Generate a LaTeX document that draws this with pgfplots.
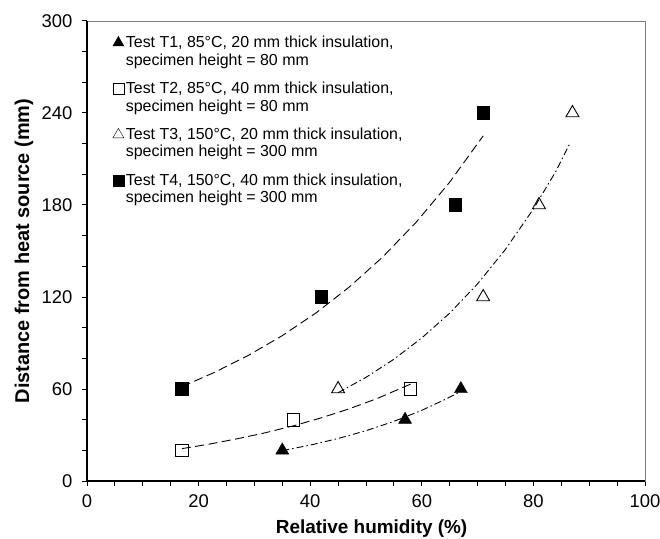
\documentclass[border=0pt]{standalone}
\usepackage{fontspec}
\setmainfont{Liberation Sans}
\usepackage{pgfplots}
\pgfplotsset{compat=1.18}
\begin{document}
\begin{tikzpicture}
\useasboundingbox (-87bp,-58bp) rectangle (573bp,481bp);
\begin{axis}[
  at={(0,0)}, anchor=south west,
  scale only axis, width=558bp, height=460bp,
  xmin=0, xmax=100, ymin=0, ymax=300,
  xtick={0,20,...,100}, ytick={0,60,...,300},
  minor x tick num=3, minor y tick num=2,
  tick align=outside, xtick pos=bottom, ytick pos=left,
  major tick length=5bp, minor tick length=5bp,
  every tick/.style={black, line width=1pt},
  axis line style={draw=gray, line width=0.9pt},
  /pgf/number format/assume math mode=true,
  ticklabel style={font=\fontsize{18.5}{20}\selectfont},
  xticklabel style={yshift=-5bp},
  yticklabel style={xshift=-6bp},
  xlabel={Relative humidity (\%)},
  ylabel={Distance from heat source (mm)},
  every axis x label/.style={at={(axis description cs:0.51,-0.1043)}, anchor=center, font=\fontsize{19}{22}\selectfont\bfseries},
  every axis y label/.style={at={(axis description cs:-0.1129,0.5)}, rotate=90, anchor=center, font=\fontsize{20}{22}\selectfont\bfseries},
  legend style={at={(rel axis cs:0.046,0.972)}, anchor=north west, draw=none, fill=none,
    font=\fontsize{16}{17.5}\selectfont, cells={align=left, anchor=west}, row sep=11.5bp, inner sep=0pt},
  legend image code/.code={\draw[mark repeat=1,mark phase=1,#1] plot coordinates {(0.3cm,8.5bp)};},
  legend image post style={mark options={scale=0.85}},
  clip=false,
]
% trend lines
\addplot[forget plot, black, line width=0.9pt, dash pattern=on 7bp off 3bp on 1.5bp off 3bp] coordinates {
(35,19.8) (40,23.4) (45,27.7) (50,32.8) (55,38.9) (60,46.1) (64,52.9) (67,58.4)};
\addplot[forget plot, black, line width=0.9pt, dash pattern=on 9bp off 4.5bp] coordinates {
(17,21.1) (22,24.1) (27,27.6) (32,31.5) (37,36.0) (42,41.2) (47,47.1) (52,53.8) (58,63.2)};
\addplot[forget plot, black, line width=0.9pt, dash pattern=on 7bp off 3bp on 1.5bp off 3bp] coordinates {
(45,57.6) (50,67.6) (55,79.4) (60,93.3) (65,109.5) (70,128.6) (75,151.1) (80,177.4) (84,201.8) (86.5,220)};
\addplot[forget plot, black, line width=0.9pt, dash pattern=on 9bp off 4.5bp] coordinates {
(17,61.5) (23,71.1) (29,82.1) (35,94.8) (41,109.5) (47,126.5) (53,146.1) (59,168.8) (65,194.9) (71,225.1)};
% data
\addplot[only marks, mark=triangle*, mark size=7.5bp, mark options={fill=black, draw=black}] coordinates {(35,20) (57,40) (67,60)};
\addlegendentry{Test T1, 85°C, 20 mm thick insulation,\\specimen height = 80 mm}
\addplot[only marks, mark=square, mark size=6.3bp, mark options={fill=white, draw=black, line width=0.9pt}] coordinates {(17,20) (37,40) (58,60)};
\addlegendentry{Test T2, 85°C, 40 mm thick insulation,\\specimen height = 80 mm}
\addplot[only marks, mark=triangle, mark size=7.5bp, mark options={fill=white, draw=black, line width=0.9pt}] coordinates {(45,60) (71,120) (81,180) (87,240)};
\addlegendentry{Test T3, 150°C, 20 mm thick insulation,\\specimen height = 300 mm}
\addplot[only marks, mark=square*, mark size=6.3bp, mark options={fill=black, draw=black}] coordinates {(17,60) (42,120) (66,180) (71,240)};
\addlegendentry{Test T4, 150°C, 40 mm thick insulation,\\specimen height = 300 mm}
\end{axis}
\draw[black, line width=2pt] (0bp,460bp) -- (0bp,0bp) -- (558bp,0bp);
\end{tikzpicture}
\end{document}
